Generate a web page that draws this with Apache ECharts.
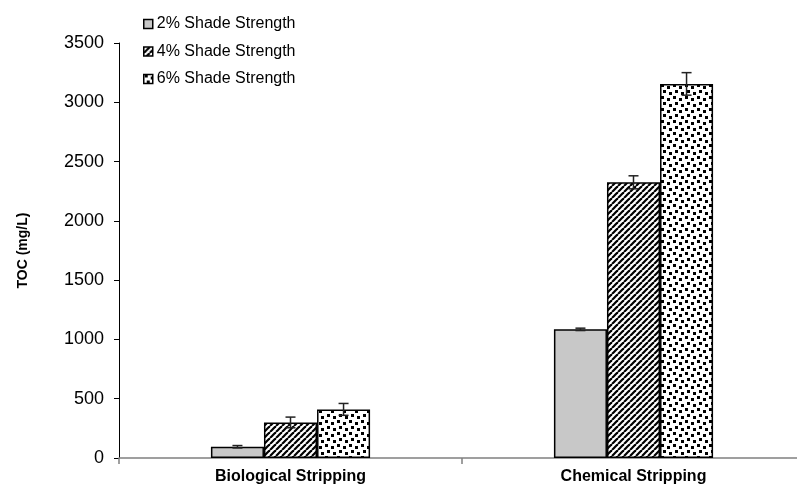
<!DOCTYPE html>
<html>
<head>
<meta charset="utf-8">
<script src="https://cdn.jsdelivr.net/npm/echarts@6/dist/echarts.min.js"></script>
<style>
html,body{margin:0;padding:0;background:#fff;}
#chart{width:797px;height:486px;}
</style>
</head>
<body>
<div id="chart"></div>
<script>
// ---- data ----
var categories = ['Biological Stripping', 'Chemical Stripping'];
var seriesNames = ['2% Shade Strength', '4% Shade Strength', '6% Shade Strength'];
var values2 = [95, 1085];
var values4 = [300, 2325];
var values6 = [410, 3155];
var errors2 = [10, 10];
var errors4 = [45, 55];
var errors6 = [50, 95];
var yTicks = [0, 500, 1000, 1500, 2000, 2500, 3000, 3500];

// ---- patterns ----
function hatchPattern() {
  var n = 6, c = document.createElement('canvas');
  c.width = n; c.height = n;
  var g = c.getContext('2d');
  g.fillStyle = '#fff'; g.fillRect(0, 0, n, n);
  g.strokeStyle = '#000'; g.lineWidth = 2.2;
  for (var k = -1; k <= 1; k++) {
    g.beginPath();
    g.moveTo(k * n, n); g.lineTo(k * n + n, 0);
    g.stroke();
  }
  return c;
}
function dotPattern() {
  var n = 12, c = document.createElement('canvas');
  c.width = n; c.height = n;
  var g = c.getContext('2d');
  g.fillStyle = '#fff'; g.fillRect(0, 0, n, n);
  g.fillStyle = '#000';
  var pts = [[1, 0], [7, 2], [3, 6], [9, 8]];
  pts.forEach(function (p) { g.fillRect(p[0], p[1], 3, 3); });
  return c;
}
var fills = [
  '#c8c8c8',
  { image: hatchPattern(), repeat: 'repeat' },
  { image: dotPattern(), repeat: 'repeat' }
];
var allValues = [values2, values4, values6];
var allErrors = [errors2, errors4, errors6];

var CAT_GAP = 0.536;
var chart = echarts.init(document.getElementById('chart'), null, { renderer: 'canvas' });

var series = [];
allValues.forEach(function (vals, i) {
  series.push({
    name: seriesNames[i],
    type: 'bar',
    data: vals,
    barGap: '0%',
    barCategoryGap: (CAT_GAP * 100) + '%',
    itemStyle: { color: fills[i], borderColor: '#000', borderWidth: 1.5 },
    emphasis: { disabled: true },
    z: 2
  });
});
allValues.forEach(function (vals, i) {
  var d = vals.map(function (v, j) { return [j, v, allErrors[i][j]]; });
  series.push({
    type: 'custom',
    name: 'err' + i,
    data: d,
    z: 5,
    silent: true,
    renderItem: function (params, api) {
      var ci = api.value(0), v = api.value(1), e = api.value(2);
      var catW = api.size([1, 0])[0];
      var bw = catW * (1 - CAT_GAP) / 3;
      var c = api.coord([ci, v]);
      var x = c[0] + (i - 1) * bw;
      var yTop = api.coord([ci, v + e])[1];
      var yBot = api.coord([ci, v - e])[1];
      var cap = 5;
      var st = { stroke: '#222', lineWidth: 1.5 };
      return {
        type: 'group',
        children: [
          { type: 'line', shape: { x1: x, y1: yTop, x2: x, y2: yBot }, style: st },
          { type: 'line', shape: { x1: x - cap, y1: yTop, x2: x + cap, y2: yTop }, style: st },
          { type: 'line', shape: { x1: x - cap, y1: yBot, x2: x + cap, y2: yBot }, style: st }
        ]
      };
    }
  });
});

chart.setOption({
  backgroundColor: '#fff',
  animation: false,
  textStyle: { fontFamily: 'Liberation Sans, Arial, sans-serif' },
  legend: {
    data: seriesNames,
    orient: 'vertical',
    left: 138,
    top: 11,
    itemWidth: 9,
    itemHeight: 9,
    itemGap: 11.5,
    itemStyle: { borderColor: '#000', borderWidth: 1.5 },
    icon: 'rect',
    textStyle: { fontSize: 16, color: '#000', padding: [0, 0, 0, -1] },
    selectedMode: false
  },
  grid: { left: 119, width: 686, top: 43, bottom: 28, containLabel: false, outerBoundsMode: 'none' },
  xAxis: {
    type: 'category',
    data: categories,
    axisLine: { lineStyle: { color: '#808080', width: 1.5 } },
    axisTick: { show: true, alignWithLabel: false, length: 6, lineStyle: { color: '#808080', width: 1.5 } },
    axisLabel: { fontSize: 16, fontWeight: 'bold', color: '#000', margin: 11 },
    splitLine: { show: false }
  },
  yAxis: {
    type: 'value',
    min: yTicks[0],
    max: yTicks[yTicks.length - 1],
    interval: 500,
    name: 'TOC (mg/L)',
    nameLocation: 'middle',
    nameGap: 89,
    nameTextStyle: { fontSize: 14, fontWeight: 'bold', color: '#000' },
    axisLine: { show: true, lineStyle: { color: '#000', width: 1 } },
    axisTick: { show: true, length: 5, lineStyle: { color: '#000' } },
    axisLabel: { fontSize: 18, color: '#000', margin: 15, formatter: function (v) { return String(v); } },
    splitLine: { show: false }
  },
  series: series
});
</script>
</body>
</html>
